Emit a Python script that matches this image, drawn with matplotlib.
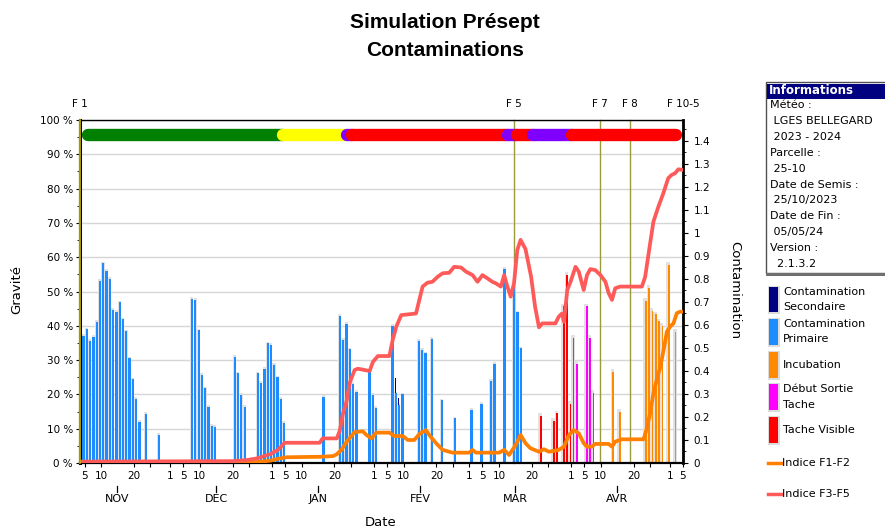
import numpy as np
import matplotlib
matplotlib.use("Agg")
import matplotlib.pyplot as plt
from matplotlib.patches import Rectangle
from matplotlib.lines import Line2D
import matplotlib.transforms as mtransforms
import datetime as dt

plt.rcParams['font.family'] = ['DejaVu Sans']

# ---------------- data (x = days since 1 Nov 2023) ----------------
START = dt.date(2023, 11, 1)

prim_days = [3, 4, 5, 6, 7, 8, 9, 10, 11, 12, 13, 14, 15, 16, 17, 18, 19, 20, 22, 26,
             36, 37, 38, 39, 40, 41, 42, 43,
             49, 50, 51, 52,
             56, 57, 58, 59, 60, 61, 62, 63, 64,
             76,
             81, 82, 83, 84, 85, 86,
             90, 91, 92,
             97, 98, 99, 100,
             105, 106, 107, 109, 112, 116, 121, 124, 127, 128,
             131, 134, 135, 136]
prim_vals = [37.0, 39.0, 35.6, 36.8, 41.2, 53.2, 58.2, 56.1, 53.6, 44.6, 44.1, 46.8, 41.9, 38.4,
             30.5, 24.4, 18.7, 12.0, 14.4, 8.2,
             47.9, 47.6, 38.7, 25.7, 21.8, 16.4, 10.9, 10.5,
             31.0, 26.1, 19.8, 16.4,
             26.1, 23.3, 27.4, 34.9, 34.4, 28.6, 25.0, 18.7, 11.6,
             19.3,
             43.0, 35.9, 40.5, 33.1, 23.1, 20.8,
             26.6, 19.8, 16.1,
             40.0, 20.3, 16.9, 20.0,
             35.6, 32.9, 32.0, 36.2, 18.3, 13.0, 15.5, 17.2, 23.9, 28.9,
             56.6, 51.0, 43.9, 33.4]

sec_days = [98, 99]
sec_vals = [24.7, 18.9]

visible_days = [142, 146, 147, 149, 150, 151]
visible_vals = [13.7, 12.2, 14.5, 45.7, 54.8, 17.3]

sortie_days = [152, 153, 156, 157, 158]
sortie_vals = [36.5, 29.0, 45.7, 36.5, 20.4]

incub_days = [164, 166, 174, 175, 176, 177, 178, 179, 181, 183]
incub_vals = [26.6, 14.8, 47.3, 51.0, 44.3, 43.3, 41.3, 39.9, 57.8, 38.2]

f12_days = [2.6, 56.3, 60.4, 63.4, 65.4, 75.5, 79.5, 80.6, 82.1, 83.6, 86.1, 88.6, 89.7, 91.2,
            92.7, 96.7, 98.2, 100.8, 102.3, 104.3, 105.8, 107.8, 108.8, 110.9, 112.9, 115.9,
            121.0, 122.0, 123.0, 130.1, 131.6, 133.1, 135.1, 136.6, 138.1, 139.6, 142.2, 143.7,
            145.2, 148.2, 149.8, 151.3, 152.8, 154.3, 155.8, 156.8, 158.3, 159.3, 163.4, 164.4,
            165.4, 167.4, 174.0, 175.0, 176.0, 177.0, 178.0, 179.1, 180.1, 181.1, 182.1, 183.1,
            184.1, 185.1, 186.0]
f12_vals = [0.0, 0.004, 0.01, 0.02, 0.025, 0.027, 0.03, 0.037, 0.057, 0.09, 0.134, 0.138, 0.122,
            0.107, 0.132, 0.132, 0.117, 0.117, 0.1, 0.1, 0.126, 0.143, 0.122, 0.086, 0.057, 0.045,
            0.045, 0.057, 0.045, 0.045, 0.057, 0.035, 0.078, 0.122, 0.086, 0.064, 0.049, 0.06,
            0.049, 0.057, 0.071, 0.122, 0.143, 0.129, 0.086, 0.071, 0.071, 0.083, 0.083, 0.071,
            0.093, 0.103, 0.103, 0.151, 0.216, 0.303, 0.361, 0.419, 0.491, 0.571, 0.593, 0.607,
            0.651, 0.658, 0.658]

f35_days = [2.6, 24.0, 49.0, 53.4, 56.4, 60.4, 62.8, 64.9, 75.5, 76.4, 80.7, 81.6, 82.6, 83.7,
            84.6, 86.1, 87.1, 90.7, 91.7, 93.2, 96.7, 97.7, 98.8, 100.3, 104.8, 105.8, 106.8,
            108.3, 109.8, 111.4, 112.9, 114.9, 116.4, 118.5, 120.0, 122.0, 123.5, 125.0, 126.5,
            128.0, 129.1, 130.6, 131.6, 132.6, 133.6, 134.6, 135.6, 136.6, 138.1, 139.8, 141.0,
            142.2, 143.2, 147.2, 148.2, 149.2, 149.8, 150.8, 151.8, 153.3, 154.3, 155.8, 156.8,
            157.8, 159.3, 160.9, 162.4, 163.4, 164.4, 165.4, 166.9, 173.5, 174.5, 176.0, 177.0,
            178.5, 180.0, 181.5, 182.5, 183.6, 184.6, 186.0]
f35_vals = [0.006, 0.007, 0.008, 0.013, 0.02, 0.038, 0.057, 0.088, 0.088, 0.107, 0.107, 0.14,
            0.216, 0.27, 0.347, 0.404, 0.41, 0.40, 0.44, 0.465, 0.465, 0.535, 0.593, 0.643, 0.65,
            0.709, 0.767, 0.784, 0.788, 0.81, 0.825, 0.827, 0.853, 0.85, 0.832, 0.817, 0.788,
            0.817, 0.803, 0.788, 0.781, 0.767, 0.817, 0.767, 0.723, 0.781, 0.926, 0.97, 0.93,
            0.81, 0.68, 0.59, 0.607, 0.607, 0.636, 0.65, 0.614, 0.752, 0.788, 0.853, 0.832, 0.752,
            0.817, 0.843, 0.839, 0.817, 0.788, 0.738, 0.709, 0.76, 0.767, 0.767, 0.81, 0.955,
            1.049, 1.114, 1.172, 1.238, 1.252, 1.26, 1.277, 1.274]

stage_names = ['F 1', 'F 5', 'F 7', 'F 8', 'F 10-5']
stage_days = [2.6, 134.6, 160.7, 169.8, 186.0]

band_starts = [3.1, 62.3, 82.0, 83.5, 131.0, 133.7, 138.6, 150.3]
band_end = 185.8
band_colors = ['#008000', '#FFFF00', '#8000FF', '#FF0000', '#8000FF', '#FF0000', '#8000FF', '#FF0000']

month_list = [(2023, 11, 'NOV'), (2023, 12, 'DEC'), (2024, 1, 'JAN'), (2024, 2, 'FEV'),
              (2024, 3, 'MAR'), (2024, 4, 'AVR'), (2024, 5, '')]
tick_dom = [1, 5, 10, 20, 25]
label_dom = [1, 5, 10, 20]

info_lines = ['Météo :', ' LGES BELLEGARD', ' 2023 - 2024', 'Parcelle :', ' 25-10',
              'Date de Semis :', ' 25/10/2023', 'Date de Fin :', ' 05/05/24', 'Version :',
              '  2.1.3.2']

# ---------------- figure ----------------
W, H = 885, 530
fig = plt.figure(figsize=(W / 100, H / 100), dpi=100)


def fx(x):
    return x / W


def fy(y):
    return 1 - y / H


ax = fig.add_axes([fx(80), fy(463), (683 - 80) / W, (463 - 120) / H])
XMIN, XMAX = 2.6, 186.0
ax.set_xlim(XMIN, XMAX)
ax.set_ylim(0, 100)

ax.set_axisbelow(True)
ax.yaxis.grid(True, color='#D6D6D6', lw=1.0)
ax.set_yticks(np.arange(0, 101, 10))
ax.set_yticks(np.arange(0, 101, 5), minor=True)
ax.set_yticklabels([f"{v} %" for v in range(0, 101, 10)])
ax.tick_params(axis='y', which='major', length=3, pad=2, labelsize=7.5, direction='out')
ax.tick_params(axis='y', which='minor', length=2, direction='out')


def draw_bars(days, vals, color, cw, coff, gw, goff, gextra):
    d = np.asarray(days, float)
    v = np.asarray(vals, float)
    ax.bar(d + goff, v + gextra, width=gw, color='#E1E1E1', linewidth=0, zorder=2)
    ax.bar(d + coff, v, width=cw, color=color, linewidth=0, zorder=3)


draw_bars(prim_days, prim_vals, '#1E8CFF', 0.68, 0.68, 0.95, 0.6, 0.5)
ax.bar(np.asarray(sec_days, float) + 0.42, sec_vals, width=0.3, color='#000080',
       linewidth=0, zorder=2.8)
draw_bars(visible_days, visible_vals, '#FF0000', 0.5, 0.75, 1.05, 0.5, 0.8)
draw_bars(sortie_days, sortie_vals, '#FF00FF', 0.5, 0.75, 1.05, 0.5, 0.8)
draw_bars(incub_days, incub_vals, '#FF8A00', 0.5, 0.75, 1.05, 0.5, 0.8)

# stage lines
for name, d in zip(stage_names, stage_days):
    col = '#C8B400' if name == 'F 1' else '#9E9A3A'
    ax.axvline(d, color=col, lw=1.6 if name == 'F 1' else 1.0, zorder=2.6, clip_on=False)
    fig.text(fx(80) + (d - XMIN) / (XMAX - XMIN) * (683 - 80) / W, fy(104), name,
             ha='center', va='center', fontsize=7.5)

# band
r = 1.9
bounds = band_starts + [band_end]
for i, c in enumerate(band_colors):
    a = bounds[i] + r
    b = bounds[i + 1] + r if i < len(band_colors) - 1 else bounds[i + 1] - r
    if b < a:
        b = a
    ax.plot([a, b], [95.5, 95.5], color=c, lw=8.9, solid_capstyle='round', zorder=4)

# x ticks
tpos, tlab, mpos, mlab = [], [], [], []
for (yy, mm, name) in month_list:
    for dd in tick_dom:
        off = (dt.date(yy, mm, dd) - START).days
        if XMIN - 0.01 <= off <= XMAX + 0.01:
            tpos.append(off)
            tlab.append(str(dd) if dd in label_dom else '')
    if name:
        mpos.append((dt.date(yy, mm, 15) - START).days)
        mlab.append(name)
ax.set_xticks(tpos)
ax.set_xticklabels(tlab)
ax.tick_params(axis='x', length=3, pad=3, labelsize=7.5, direction='out')
trans = mtransforms.blended_transform_factory(ax.transData, ax.transAxes)
for p, l in zip(mpos, mlab):
    ax.add_line(Line2D([p, p], [-0.068, -0.085], transform=trans, color='black', lw=0.9,
                       clip_on=False))
    ax.text(p, -0.105, l, transform=trans, ha='center', va='center', fontsize=8)

for s in ['left', 'right', 'top', 'bottom']:
    ax.spines[s].set_visible(False)

# right axis with lines
ax2 = ax.twinx()
ax2.set_xlim(XMIN, XMAX)
ax2.set_ylim(0, 1.4913)
ax2.set_yticks(np.round(np.arange(0, 1.41, 0.1), 2))
ax2.set_yticks(np.round(np.arange(0, 1.46, 0.05), 3), minor=True)
ax2.set_yticklabels([f"{v:g}" for v in np.round(np.arange(0, 1.41, 0.1), 2)])
ax2.tick_params(axis='y', which='major', length=3.5, pad=4, labelsize=7.5, direction='out')
ax2.tick_params(axis='y', which='minor', length=2, direction='out')
ax2.plot(f12_days, f12_vals, color='#FF8000', lw=2.7, zorder=3, solid_joinstyle='round')
ax2.plot(f35_days, f35_vals, color='#FF5A5A', lw=2.7, zorder=4, solid_joinstyle='round')
ax2.spines['left'].set_visible(True)
ax2.spines['left'].set_color('black')
ax2.spines['left'].set_linewidth(2.2)
ax2.spines['left'].set_zorder(1)
ax2.spines['right'].set_linewidth(2.0)
ax2.spines['bottom'].set_linewidth(1.6)
ax2.spines['top'].set_linewidth(1.0)
# F1 stage line over left spine
ax2.add_line(Line2D([stage_days[0], stage_days[0]], [0, 1.4913], color='#C8B400', lw=1.2,
                    zorder=6, clip_on=False))

# labels
fig.text(fx(17), fy(290), 'Gravité', rotation=90, ha='center', va='center', fontsize=9.5)
fig.text(fx(735), fy(290), 'Contamination', rotation=270, ha='center', va='center', fontsize=9.5)
fig.text(fx(381), fy(522), 'Date', ha='center', va='center', fontsize=9.5)
fig.text(fx(445), fy(23), 'Simulation Présept', ha='center', va='center', fontsize=15,
         fontweight='bold', family=['Liberation Sans', 'DejaVu Sans'])
fig.text(fx(445), fy(50), 'Contaminations', ha='center', va='center', fontsize=15,
         fontweight='bold', family=['Liberation Sans', 'DejaVu Sans'])

# info panel
fig.patches.append(Rectangle((fx(766), fy(273)), 0.2, (273 - 82) / H, transform=fig.transFigure,
                             facecolor='white', edgecolor='#505050', lw=1.0))
fig.patches.append(Rectangle((fx(767), fy(98.5)), 0.2, (98.5 - 83.5) / H,
                             transform=fig.transFigure, facecolor='#000080', edgecolor='none'))
fig.patches.append(Rectangle((fx(766), fy(275.5)), 0.2, 2.5 / H, transform=fig.transFigure,
                             facecolor='#707070', edgecolor='none'))
fig.text(fx(769), fy(91), 'Informations', color='white', fontweight='bold', fontsize=8.5,
         ha='left', va='center')
for i, line in enumerate(info_lines):
    fig.text(fx(770), fy(105 + i * 15.9), line, fontsize=8, ha='left', va='center')

# legend
leg_items = [('#000080', 287, 312, ['Contamination', 'Secondaire']),
             ('#1E8CFF', 319, 345, ['Contamination', 'Primaire']),
             ('#FF8A00', 352, 378, ['Incubation']),
             ('#FF00FF', 384, 410, ['Début Sortie', 'Tache']),
             ('#FF0000', 417, 443, ['Tache Visible'])]
for col, y0, y1, labs in leg_items:
    fig.patches.append(Rectangle((fx(767.5), fy(y1 + 1.5)), 12 / W, (y1 - y0 + 3) / H,
                                 transform=fig.transFigure, facecolor='#DCDCDC', edgecolor='none'))
    fig.patches.append(Rectangle((fx(769), fy(y1)), 9 / W, (y1 - y0) / H,
                                 transform=fig.transFigure, facecolor=col, edgecolor='none'))
    if len(labs) == 2:
        fig.text(fx(783), fy(y0 + 5), labs[0], fontsize=8, ha='left', va='center')
        fig.text(fx(783), fy(y0 + 20.5), labs[1], fontsize=8, ha='left', va='center')
    else:
        fig.text(fx(783), fy((y0 + y1) / 2), labs[0], fontsize=8, ha='left', va='center')

for col, y, lab in [('#FF8000', 463, 'Indice F1-F2'), ('#FF5A5A', 494, 'Indice F3-F5')]:
    fig.add_artist(Line2D([fx(768), fx(781)], [fy(y), fy(y)], transform=fig.transFigure,
                          color=col, lw=2.5))
    fig.text(fx(782), fy(y), lab, fontsize=8, ha='left', va='center')

fig.savefig('out.png', dpi=100)
